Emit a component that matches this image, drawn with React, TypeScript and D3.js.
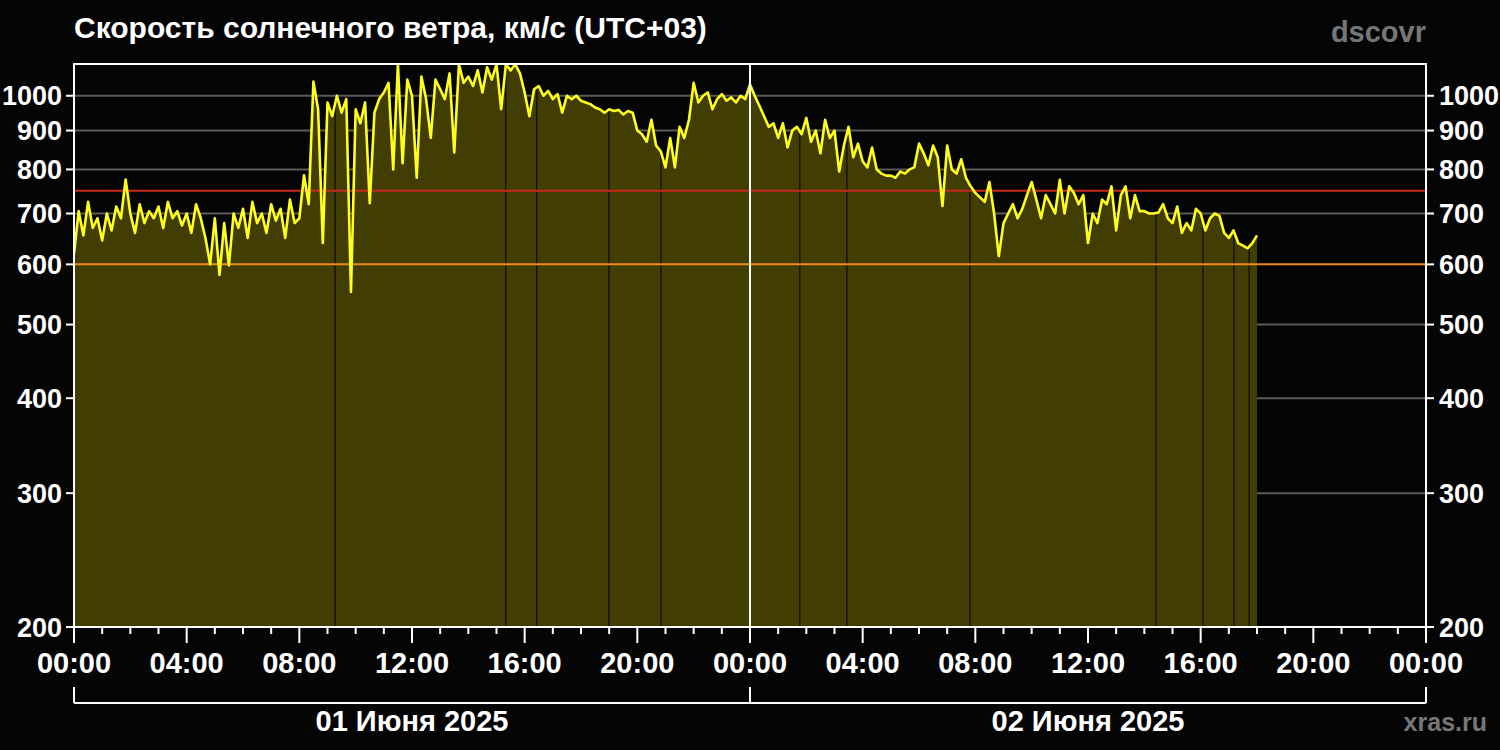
import React from "react";
import * as d3 from "d3";

// ---- data (10-minute samples, km/s) ----
const day1Speed = [
  620, 705, 655, 725, 670, 690,
  645, 700, 665, 715, 690, 776,
  700, 660, 720, 680, 705, 690,
  715, 670, 725, 690, 705, 675,
  700, 660, 720, 690, 650, 600,
  690, 581, 680, 598, 700, 670,
  710, 650, 725, 680, 700, 660,
  720, 685, 710, 650, 730, 680,
  690, 786, 720, 1044, 960, 640,
  980, 940, 1000, 950, 990, 552,
  960, 920, 980, 722, 950, 990,
  1010, 1040, 800, 1100, 815, 1050,
  1000, 780, 1060, 990, 880, 1050,
  1020, 990, 1070, 842, 1100, 1040,
  1060, 1030, 1080, 1010, 1090, 1050,
  1100, 960, 1100, 1080, 1100, 1070,
  1010, 940, 1020, 1030, 1000, 1015,
  990, 1005, 950, 1000, 990, 1000,
  985, 980, 975, 965, 960, 950,
  960, 955, 958, 945, 955, 950,
  900, 890, 870, 930, 860, 845,
  805, 880, 805, 910, 880, 930,
  1040, 980, 1000, 1010, 960, 990,
  1005, 985, 995, 980, 1000, 990,
];
const day2Speed = [
  1035, 1000, 970, 940, 910, 920,
  880, 920, 855, 900, 910, 890,
  935, 870, 900, 840, 930, 880,
  900, 795, 860, 910, 830, 865,
  820, 805, 855, 800, 790, 785,
  785, 780, 795, 790, 800, 805,
  865, 840, 810, 860, 830, 716,
  860, 800, 790, 825, 780, 760,
  745, 735, 725, 770, 700, 615,
  680, 700, 720, 690, 710, 740,
  770, 730, 690, 740, 720, 700,
  775, 700, 760, 745, 720, 740,
  640, 700, 680, 730, 720, 760,
  665, 740, 760, 690, 740, 705,
  705, 700, 700, 702, 720, 690,
  680, 715, 660, 680, 665, 710,
  700, 665, 690, 700, 695, 660,
  650, 665, 640, 635, 630, 640,
  655,
];
// data gaps (hours from 01 June 00:00)
const gapHours = [9.27, 15.33, 16.43, 18.99, 20.84, 25.77, 27.44, 31.81, 38.41, 40.08, 41.18, 41.72];
const yTicks = [200, 300, 400, 500, 600, 700, 800, 900, 1000];
const dayLabels = ["01 Июня 2025", "02 Июня 2025"];
const thresholdOrange = 600;
const thresholdRed = 750;
const title = "Скорость солнечного ветра, км/с (UTC+03)";

const T0 = Date.UTC(2025, 5, 1, 0, 0);
const HOUR = 3600 * 1000;
const STEP = 10 * 60 * 1000;

type Pt = { t: Date; v: number };
const series: Pt[] = [...day1Speed, ...day2Speed].map((v, i) => ({ t: new Date(T0 + i * STEP), v }));

function valueAt(h: number): number {
  const idx = h * 6;
  const i0 = Math.floor(idx);
  const f = idx - i0;
  const a = series[Math.min(i0, series.length - 1)].v;
  const b = series[Math.min(i0 + 1, series.length - 1)].v;
  return a + (b - a) * f;
}

export default function App() {
  const W = 1500, H = 750;
  const L = 74, R = 1426, TOP = 64, BOT = 627;
  const x = d3.scaleUtc().domain([new Date(T0), new Date(T0 + 48 * HOUR)]).range([L, R]);
  const y = d3.scaleLog().domain([200, 1101]).range([BOT, TOP]);

  const area = d3.area<Pt>().x(d => x(d.t)).y0(BOT).y1(d => y(d.v));
  const line = d3.line<Pt>().x(d => x(d.t)).y(d => y(d.v));

  const hourTicks = d3.range(0, 49).map(h => new Date(T0 + h * HOUR));
  const fmt = d3.utcFormat("%H:%M");
  const font = "'Liberation Sans', Arial, sans-serif";
  const midX = x(new Date(T0 + 24 * HOUR));
  const FS = 29;

  return (
    <svg width={W} height={H} style={{ position: "absolute", left: 0, top: 0, background: "#050505" }} fontFamily={font}>
      <defs>
        <clipPath id="plot">
          <rect x={L} y={TOP} width={R - L} height={BOT - TOP} />
        </clipPath>
      </defs>
      <rect x={0} y={0} width={W} height={H} fill="#050505" />
      <text x={L} y={38} fill="#fff" fontSize={30} fontWeight="bold">{title}</text>
      <text x={R} y={42} fill="#777" fontSize={FS} fontWeight="bold" textAnchor="end">dscovr</text>

      {/* grid */}
      {yTicks.filter(v => v !== 200 && v !== 600).map(v => (
        <line key={v} x1={L} x2={R} y1={y(v)} y2={y(v)} stroke="#5a5a5a" strokeWidth={2} />
      ))}

      <g clipPath="url(#plot)">
        <path d={area(series) || ""} fill="#423e03" />
        {gapHours.map(h => (
          <line key={h} x1={x(new Date(T0 + h * HOUR))} x2={x(new Date(T0 + h * HOUR))} y1={BOT} y2={y(valueAt(h))} stroke="#0c0c02" strokeWidth={1.2} />
        ))}
        <line x1={L} x2={R} y1={y(thresholdRed)} y2={y(thresholdRed)} stroke="#c8281c" strokeWidth={2} />
        <line x1={L} x2={R} y1={y(thresholdOrange)} y2={y(thresholdOrange)} stroke="#ee8a1c" strokeWidth={2} />
        <path d={line(series) || ""} fill="none" stroke="#ffff1e" strokeWidth={2.6} strokeLinejoin="round" />
      </g>

      {/* midnight divider */}
      <line x1={midX} x2={midX} y1={TOP} y2={BOT} stroke="#fff" strokeWidth={2} />
      {/* frame */}
      <rect x={L} y={TOP} width={R - L} height={BOT - TOP} fill="none" stroke="#fff" strokeWidth={2} />

      {/* y axes */}
      {yTicks.map(v => (
        <g key={"yl" + v}>
          <line x1={L - 8} x2={L} y1={y(v)} y2={y(v)} stroke="#fff" strokeWidth={2} />
          <text x={L - 12} y={y(v)} dy="0.36em" fill="#fff" fontSize={27} fontWeight="bold" textAnchor="end">{v}</text>
          <line x1={R} x2={R + 8} y1={y(v)} y2={y(v)} stroke="#fff" strokeWidth={2} />
          <text x={R + 13} y={y(v)} dy="0.36em" fill="#fff" fontSize={27} fontWeight="bold" textAnchor="start">{v}</text>
        </g>
      ))}

      {/* x axis ticks */}
      {hourTicks.map((t, i) => {
        const major = i % 4 === 0;
        return (
          <g key={"xt" + i}>
            <line x1={x(t)} x2={x(t)} y1={BOT} y2={BOT + (major ? 16 : 7)} stroke="#fff" strokeWidth={2} />
            {major && (
              <text x={x(t)} y={673} fill="#fff" fontSize={FS} fontWeight="bold" textAnchor="middle">{fmt(t)}</text>
            )}
          </g>
        );
      })}

      {/* day brackets */}
      <line x1={L} x2={R} y1={703} y2={703} stroke="#fff" strokeWidth={2} />
      {[0, 24, 48].map(h => (
        <line key={"b" + h} x1={x(new Date(T0 + h * HOUR))} x2={x(new Date(T0 + h * HOUR))} y1={687} y2={703} stroke="#fff" strokeWidth={2} />
      ))}
      {dayLabels.map((s, i) => (
        <text key={s} x={(x(new Date(T0 + i * 24 * HOUR)) + x(new Date(T0 + (i + 1) * 24 * HOUR))) / 2} y={731} fill="#fff" fontSize={FS} fontWeight="bold" textAnchor="middle">{s}</text>
      ))}
      <text x={1487} y={731} fill="#777" fontSize={25} fontWeight="bold" textAnchor="end">xras.ru</text>
    </svg>
  );
}
